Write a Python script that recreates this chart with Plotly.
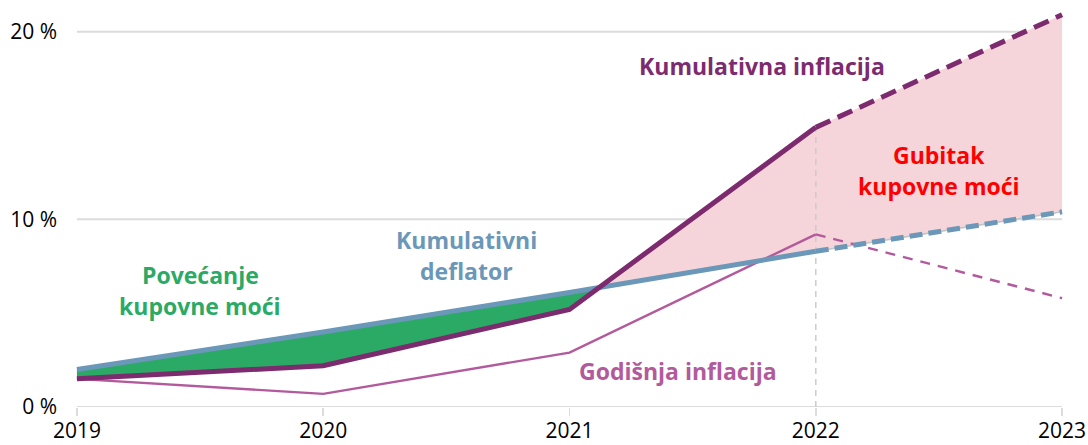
import numpy as np
import plotly.graph_objects as go

years = [2019, 2020, 2021, 2022, 2023]
kum_infl = [1.5, 2.2, 5.2, 14.9, 20.9]      # Kumulativna inflacija
kum_defl = [2.0, 4.0, 6.1, 8.3, 10.4]       # Kumulativni deflator
god_infl = [1.5, 0.7, 2.9, 9.2, 5.8]        # Godišnja inflacija
y_ticks = [0, 10, 20]
y_tick_labels = ["0 %", "10 %", "20 %"]
forecast_start = 2022

C_PURPLE = "#7D2B6F"
C_BLUE = "#6B97B8"
C_PINK = "#B25A9C"
C_GREEN = "#2BAA66"
C_FILL = "#F5D5D9"
C_GRID = "#DCDCDC"

# crossover of inflation and deflator (from data)
xa = np.array(years, float)
ia = np.array(kum_infl, float)
da = np.array(kum_defl, float)
diff = ia - da
cross_x, cross_y, k = None, None, None
for i in range(len(xa) - 1):
    if diff[i] < 0 <= diff[i + 1]:
        t = -diff[i] / (diff[i + 1] - diff[i])
        cross_x = xa[i] + t * (xa[i + 1] - xa[i])
        cross_y = da[i] + t * (da[i + 1] - da[i])
        k = i
        break

fig = go.Figure()

# green area (deflator above inflation)
gx = list(xa[:k + 1]) + [cross_x] + list(xa[:k + 1][::-1])
gy = list(da[:k + 1]) + [cross_y] + list(ia[:k + 1][::-1])
# pink area (inflation above deflator)
px_ = [cross_x] + list(xa[k + 1:]) + list(xa[k + 1:][::-1]) + [cross_x]
py_ = [cross_y] + list(ia[k + 1:]) + list(da[k + 1:][::-1]) + [cross_y]
fig.add_trace(go.Scatter(x=px_, y=py_, fill="toself", fillcolor=C_FILL,
                         line=dict(width=0), mode="lines", hoverinfo="skip"))
fig.add_trace(go.Scatter(x=gx, y=gy, fill="toself", fillcolor=C_GREEN,
                         line=dict(width=1, color=C_FILL), mode="lines", hoverinfo="skip"))

fi = years.index(forecast_start)
# vertical dashed line at forecast start
fig.add_trace(go.Scatter(x=[forecast_start, forecast_start], y=[0, kum_infl[fi]],
                         mode="lines", line=dict(color="#CCCCCC", width=1.5, dash="6px,5px"),
                         hoverinfo="skip"))

# thin grey guide under the forecast part of the deflator
fig.add_trace(go.Scatter(x=years[fi:], y=kum_defl[fi:], mode="lines",
                         line=dict(color="#C4C4C4", width=1.5)))


def add_series(vals, color, width, dash):
    fig.add_trace(go.Scatter(x=years[:fi + 1], y=vals[:fi + 1], mode="lines",
                             line=dict(color=color, width=width)))
    fig.add_trace(go.Scatter(x=years[fi:], y=vals[fi:], mode="lines",
                             line=dict(color=color, width=width, dash=dash)))


add_series(god_infl, C_PINK, 2.4, "10px,8px")
add_series(kum_defl, C_BLUE, 5, "13px,6px")
add_series(kum_infl, C_PURPLE, 5, "16px,8px")

# gridlines and baseline
shapes = []
for v in y_ticks:
    shapes.append(dict(type="line", xref="x", yref="y", x0=years[0], x1=years[-1],
                       y0=v, y1=v, line=dict(color=C_GRID, width=2), layer="below"))

annots = []
def lab(text, x, y, color):
    annots.append(dict(text=f"<b>{text}</b>", x=x, y=y, xref="x", yref="y",
                       showarrow=False, font=dict(color=color, size=23,
                                                  family="Open Sans")))

lab("Kumulativna inflacija", 2021.78, 18.15, C_PURPLE)
lab("Gubitak", 2022.50, 13.45, "#FF0000")
lab("kupovne moći", 2022.50, 11.80, "#FF0000")
lab("Kumulativni", 2020.58, 8.90, C_BLUE)
lab("deflator", 2020.58, 7.25, C_BLUE)
lab("Povećanje", 2019.50, 7.05, C_GREEN)
lab("kupovne moći", 2019.50, 5.40, C_GREEN)
lab("Godišnja inflacija", 2021.44, 1.93, C_PINK)

fig.update_layout(
    width=1088, height=445,
    margin=dict(l=72, r=21, t=5, b=38, autoexpand=False),
    plot_bgcolor="white", paper_bgcolor="white",
    showlegend=False,
    shapes=shapes, annotations=annots,
    font=dict(family="Open Sans", size=21, color="black"),
    xaxis=dict(range=[2018.98, 2023.02], tickvals=years, ticktext=[str(y) for y in years],
               ticks="outside", ticklen=8, tickwidth=1.5, tickcolor=C_GRID,
               showgrid=False, zeroline=False, showline=False, fixedrange=True,
               tickfont=dict(size=21), automargin=False, ticklabelstandoff=-3),
    yaxis=dict(range=[0, 21.42], tickvals=y_ticks, ticktext=y_tick_labels,
               showgrid=False, zeroline=False, showline=False, ticks="",
               ticklabelstandoff=14, tickfont=dict(size=21), automargin=False,
               fixedrange=True),
)

fig.write_html("out.html",
               config={"displayModeBar": False, "staticPlot": True},
               post_script="document.body.style.margin='0px';"
                           "document.body.style.overflow='hidden';")
